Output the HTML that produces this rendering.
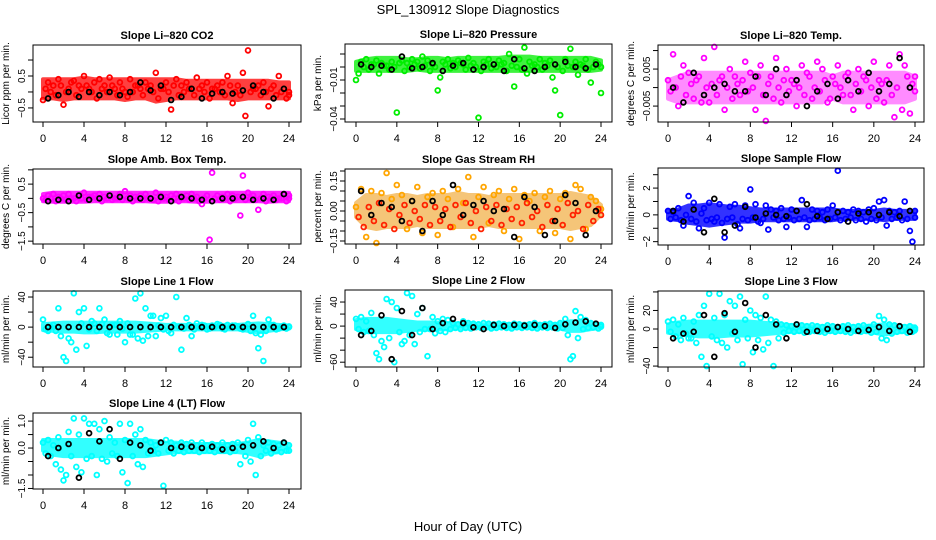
<!DOCTYPE html>
<html><head><meta charset="utf-8">
<style>
html,body{margin:0;padding:0;background:#fff;}
svg{display:block;font-family:"Liberation Sans",sans-serif;}
</style></head>
<body>
<svg id="chart" width="936" height="540" viewBox="0 0 936 540" xmlns="http://www.w3.org/2000/svg">
<rect width="936" height="540" fill="#fff"/>
<text x="468" y="14" text-anchor="middle" font-size="13">SPL_130912  Slope Diagnostics</text>
<text x="468" y="531" text-anchor="middle" font-size="13">Hour of Day (UTC)</text>
<g id="panels"></g>
</svg>
<script>
const colHours = [0,0.5,1,1.5,2,2.5,3,3.5,4,4.5,5,5.5,6,6.5,7,7.5,8,8.5,9,9.5,10,10.5,11,11.5,12,12.5,13,13.5,14,14.5,15,15.5,16,16.5,17,17.5,18,18.5,19,19.5,20,20.5,21,21.5,22,22.5,23,23.5,24];
const blackHours = [0.5,1.5,2.5,3.5,4.5,5.5,6.5,7.5,8.5,9.5,10.5,11.5,12.5,13.5,14.5,15.5,16.5,17.5,18.5,19.5,20.5,21.5,22.5,23.5];
const bandHours = [0,1,2,3,4,5,6,7,8,9,10,11,12,13,14,15,16,17,18,19,20,21,22,23,24];

const co2A = [-0.25,0.3,0.2,0.4,-0.4,0.1,0.35,0.2,0.5,0.1,0.3,0.4,0.2,0.45,0.1,0.3,0.0,0.4,0.2,0.1,0.3,0.2,0.6,0.1,0.3,-0.55,0.4,0.2,0.3,0.1,0.45,0.2,0.3,0.1,0.2,0.3,0.5,-0.35,0.2,0.6,1.3,0.1,0.2,0.3,-0.45,0.2,0.5,0.1,0.0];
const co2B = [0.1,0.0,-0.1,0.2,0.0,0.3,-0.1,0.1,0.2,0.0,-0.2,0.1,0.0,0.2,-0.1,0.1,-0.15,0.0,0.2,-0.1,0.1,0.0,-0.2,0.1,0.0,0.2,-0.1,0.0,0.1,-0.1,0.1,0.0,-0.2,0.1,0.0,-0.1,0.2,0.0,-0.1,-0.75,0.0,0.1,-0.1,0.0,0.1,-0.1,0.0,-0.2,-0.1];
const co2K = [-0.2,-0.1,0.0,-0.15,0.0,-0.1,0.0,-0.1,0.0,0.3,0.05,0.2,-0.25,-0.15,0.1,-0.2,-0.05,0.0,-0.05,0.05,0.2,0.0,-0.2,0.1];
const co2Hi = [0.4,0.4,0.4,0.4,0.45,0.4,0.4,0.4,0.4,0.4,0.4,0.4,0.4,0.4,0.35,0.35,0.35,0.35,0.35,0.35,0.35,0.35,0.35,0.3,0.3];
const co2Lo = [-0.2,-0.2,-0.25,-0.2,-0.2,-0.2,-0.2,-0.2,-0.25,-0.2,-0.2,-0.3,-0.25,-0.2,-0.2,-0.2,-0.2,-0.2,-0.2,-0.25,-0.2,-0.2,-0.2,-0.2,-0.2];

const presA = [-0.01,0.004,0.006,0.002,0.005,0.003,0.001,0.004,-0.035,0.005,0.003,0.006,0.004,0.008,0.005,0.002,-0.018,0.004,0.006,0.003,0.005,0.002,0.007,0.003,-0.039,0.004,0.006,0.002,0.005,0.003,0.01,-0.015,0.006,0.015,0.004,0.002,0.006,0.003,0.005,-0.018,-0.037,0.006,0.014,0.004,0.002,0.006,-0.012,0.004,-0.02];
const presB = [-0.005,0.0,-0.002,0.002,-0.005,0.001,-0.002,0.0,0.003,-0.003,0.0,0.002,-0.001,0.001,-0.003,0.0,-0.008,0.002,-0.001,0.0,0.003,-0.002,0.001,0.0,-0.003,0.002,-0.001,0.0,0.002,-0.003,0.001,0.0,-0.002,-0.005,0.001,0.0,-0.002,0.001,-0.008,0.0,-0.003,0.001,0.0,-0.006,0.001,-0.002,0.0,0.002,0.0];
const presK = [0.002,0.0,0.001,-0.002,0.008,-0.001,0.0,0.003,-0.003,0.001,0.003,-0.002,0.0,0.002,-0.003,0.006,-0.001,-0.003,0.0,0.002,0.004,0.0,-0.001,0.002];
const presHi = [0.004,0.006,0.007,0.007,0.007,0.006,0.006,0.007,0.007,0.006,0.007,0.007,0.007,0.007,0.007,0.008,0.008,0.008,0.007,0.007,0.007,0.007,0.007,0.007,0.005];
const presLo = [-0.003,-0.003,-0.003,-0.003,-0.003,-0.003,-0.002,-0.003,-0.003,-0.003,-0.003,-0.003,-0.003,-0.003,-0.003,-0.003,-0.003,-0.003,-0.003,-0.003,-0.003,-0.003,-0.003,-0.003,-0.002];

const tempA = [0.002,0.009,-0.005,0.006,0.004,-0.003,0.003,0.008,-0.004,0.011,0.002,-0.006,0.005,0.003,-0.002,0.007,0.004,-0.006,0.006,-0.009,0.003,0.008,-0.004,0.005,0.002,-0.005,0.006,0.004,-0.003,0.007,0.005,-0.004,0.003,0.006,-0.002,0.004,-0.006,0.005,0.003,-0.005,0.007,0.002,-0.004,0.006,-0.008,0.009,0.006,-0.007,0.003];
const tempB = [-0.001,0.0,0.003,-0.002,0.001,0.002,-0.004,0.0,0.001,-0.002,0.003,0.0,-0.003,0.001,0.002,-0.001,0.0,0.003,-0.002,0.001,-0.003,0.0,0.002,-0.001,0.001,0.0,-0.002,0.003,0.0,-0.001,0.002,-0.003,0.001,0.0,0.003,-0.002,0.001,-0.001,0.002,0.0,-0.003,0.001,0.002,-0.002,0.0,-0.006,0.003,0.001,-0.001];
const tempK = [0.0,-0.004,0.004,-0.002,0.0,0.001,-0.001,-0.001,0.003,-0.002,0.005,-0.002,0.002,-0.005,-0.001,0.001,-0.003,0.002,-0.001,0.004,-0.001,0.001,0.008,0.0];
const tempHi = [0.002,0.003,0.004,0.004,0.004,0.004,0.004,0.004,0.004,0.004,0.004,0.004,0.004,0.004,0.004,0.004,0.003,0.004,0.004,0.004,0.004,0.004,0.004,0.004,0.003];
const tempLo = [-0.003,-0.004,-0.004,-0.004,-0.004,-0.004,-0.004,-0.004,-0.004,-0.004,-0.004,-0.004,-0.004,-0.004,-0.004,-0.004,-0.003,-0.004,-0.004,-0.004,-0.004,-0.004,-0.004,-0.004,-0.003];

const ambA = [0.0,0.1,0.15,0.05,0.1,0.15,0.0,0.1,0.2,0.05,0.1,0.15,0.05,0.1,0.0,0.15,0.25,0.1,0.05,0.1,0.15,0.0,0.2,0.1,0.05,0.1,0.15,0.0,0.1,0.15,0.05,-0.2,0.1,0.9,0.1,0.05,0.15,0.1,0.05,0.8,0.2,0.1,-0.4,0.15,0.05,0.1,0.0,0.15,0.1];
const ambB = [-0.05,0.0,-0.1,0.0,-0.05,0.0,-0.1,0.0,-0.05,0.05,0.0,-0.1,0.0,-0.05,0.0,-0.05,0.0,-0.1,0.0,-0.05,0.0,-0.05,-0.1,0.0,-0.05,0.0,-0.1,0.0,-0.05,0.0,-0.1,0.0,-1.45,0.0,-0.05,0.0,-0.1,0.0,-0.6,-0.05,0.0,-0.05,0.0,-0.1,0.0,-0.05,0.0,-0.1,0.0];
const ambK = [-0.1,-0.05,-0.1,0.1,-0.05,0.0,0.1,0.05,0.0,0.0,0.0,0.05,-0.1,0.05,0.0,-0.05,-0.1,0.0,0.0,0.05,-0.05,0.0,-0.05,0.15];
const ambHi = [0.15,0.2,0.2,0.2,0.2,0.2,0.2,0.2,0.2,0.2,0.2,0.2,0.2,0.2,0.2,0.2,0.2,0.2,0.2,0.2,0.2,0.2,0.2,0.2,0.2];
const ambLo = [-0.1,-0.12,-0.12,-0.12,-0.12,-0.1,-0.1,-0.1,-0.1,-0.1,-0.1,-0.12,-0.12,-0.1,-0.1,-0.12,-0.12,-0.1,-0.1,-0.1,-0.1,-0.1,-0.12,-0.1,-0.1];

const rhA = [0.02,0.11,-0.13,0.10,-0.16,0.09,0.19,0.06,0.13,0.08,-0.09,0.05,0.12,-0.11,0.07,0.09,-0.12,0.10,0.06,-0.08,0.11,0.04,0.17,-0.13,0.07,0.12,-0.06,0.08,0.10,-0.10,0.06,0.11,-0.14,0.08,0.05,0.09,-0.10,0.07,0.10,-0.11,0.06,0.09,-0.14,0.13,0.11,-0.09,0.07,0.05,0.01];
const rhB = [-0.03,-0.08,0.02,-0.05,0.04,-0.07,0.01,-0.09,-0.02,0.03,-0.06,0.00,-0.04,0.03,-0.07,0.02,-0.05,0.01,-0.08,0.03,-0.03,0.04,-0.06,0.00,-0.09,0.02,-0.05,0.03,-0.07,0.01,-0.04,0.02,-0.06,0.04,-0.03,0.00,-0.08,0.03,-0.05,0.01,-0.07,0.04,-0.02,0.00,-0.09,0.03,-0.05,0.01,-0.02];
const rhK = [0.10,-0.02,0.04,0.02,-0.05,0.05,-0.10,0.05,-0.02,0.13,-0.02,0.03,0.05,0.0,0.01,-0.13,0.07,0.02,-0.12,-0.05,0.08,0.04,-0.12,0.0];
const rhHi = [0.04,0.08,0.08,0.07,0.08,0.08,0.07,0.08,0.08,0.08,0.09,0.08,0.08,0.07,0.08,0.08,0.08,0.08,0.08,0.08,0.08,0.09,0.08,0.07,0.03];
const rhLo = [-0.03,-0.08,-0.09,-0.08,-0.08,-0.08,-0.07,-0.08,-0.08,-0.08,-0.08,-0.08,-0.08,-0.07,-0.08,-0.08,-0.08,-0.08,-0.08,-0.08,-0.08,-0.09,-0.08,-0.07,-0.02];

const sfA = [0.3,0.2,0.5,-0.8,1.4,0.9,-1.0,0.5,0.9,-0.5,0.8,-1.7,0.6,0.8,-1.0,0.7,1.9,0.8,-0.6,0.7,0.4,0.3,0.5,-0.9,0.4,0.3,1.1,-0.9,0.4,0.3,0.2,0.4,0.7,3.3,0.3,0.2,0.4,0.3,0.2,0.4,0.5,1.0,1.1,0.3,0.2,0.3,1.0,-1.2,0.3];
const sfB = [-0.3,-0.2,-0.4,0.0,-0.3,-0.5,0.1,-0.4,-0.3,-0.2,-0.6,-0.3,-0.2,-0.7,-0.3,-0.4,-0.2,-0.5,-0.3,-1.1,-0.2,-0.4,-0.3,-0.2,-0.4,-0.3,-0.2,-0.4,-0.3,-0.2,-0.4,-0.3,-0.2,-0.4,-0.3,-0.2,-0.4,-0.3,-0.5,-0.3,-0.4,-0.2,-0.8,-0.3,-0.2,-0.4,-0.3,-2.0,-0.2];
const sfK = [0.3,-0.5,0.4,-1.3,1.2,-1.3,-0.8,0.6,-0.2,0.1,0.0,-0.1,0.3,0.8,-0.1,-0.3,0.2,-0.5,0.1,0.2,0.0,0.2,-0.1,0.3];
const sfHi = [0.3,0.4,0.7,0.7,0.8,0.7,0.6,0.6,0.5,0.4,0.4,0.4,0.4,0.4,0.4,0.4,0.4,0.3,0.3,0.3,0.3,0.4,0.3,0.3,0.3];
const sfLo = [-0.3,-0.4,-0.6,-0.7,-0.8,-0.7,-0.6,-0.5,-0.5,-0.4,-0.4,-0.4,-0.4,-0.4,-0.4,-0.4,-0.4,-0.3,-0.3,-0.3,-0.3,-0.4,-0.3,-0.3,-0.3];

const l1A = [10,-5,3,25,-40,-15,45,20,25,-3,5,25,10,-10,3,8,-20,-10,38,45,25,15,-12,12,15,-8,40,-30,12,-12,5,3,-3,2,4,-2,3,2,1,-3,4,15,-28,-45,10,3,-2,2,1];
const l1B = [-3,0,-5,-12,-45,-20,-30,5,-25,8,-5,4,-8,3,-10,-2,5,-10,-15,-18,-12,15,2,-3,-5,3,0,-2,3,-3,0,2,-2,0,3,-3,0,2,-2,0,-5,-8,-10,-5,3,-3,0,-2,0];
const l1K = [0,0,0,0,0,0,0,0,0,0,0,0,0,0,0,0,0,0,0,0,0,0,0,0];
const l1Hi = [4,5,6,6,6,6,6,6,6,6,5,4,3,3,3,3,3,3,3,3,4,5,4,3,2];
const l1Lo = [-4,-5,-6,-6,-7,-7,-6,-6,-6,-6,-5,-4,-3,-3,-3,-3,-3,-3,-3,-3,-5,-7,-5,-3,-2];

const l2A = [12,15,8,22,-45,-25,45,40,30,-30,55,50,20,30,-50,15,8,12,10,5,3,8,5,4,3,5,4,3,4,3,2,4,3,2,3,5,2,3,4,2,5,12,-55,25,15,10,5,3,2];
const l2B = [-5,-10,-8,-15,-55,-35,-20,-60,-10,-25,-15,-30,-10,-5,-5,-12,-8,-10,-5,-3,-5,-3,-4,-2,-3,-2,-4,-3,-2,-3,-4,-2,-3,-2,-3,-4,-2,-3,-2,-4,-3,-15,-50,-20,-5,-3,-2,-4,-1];
const l2K = [-15,-8,18,-55,25,-15,30,-5,5,12,5,-2,-5,2,0,2,1,2,0,-3,3,6,8,4];
const l2Hi = [10,12,12,12,10,8,6,6,6,5,4,4,3,3,3,3,3,3,3,3,4,8,8,5,3];
const l2Lo = [-5,-10,-10,-10,-10,-8,-6,-6,-6,-5,-4,-4,-3,-3,-3,-3,-3,-3,-3,-3,-4,-8,-8,-5,-3];

const l3A = [8,10,5,12,-10,8,15,25,38,12,38,15,30,25,35,10,20,15,12,35,10,8,5,4,3,5,4,3,4,3,2,4,3,2,3,4,2,3,4,2,5,14,10,5,4,3,2,3,1];
const l3B = [-3,-8,-12,-5,-10,-15,-30,-40,-8,-12,-15,-20,-5,-12,-38,-10,-25,-12,-22,-15,-40,-10,-4,-2,-3,-2,-4,-3,-2,-3,-4,-2,-3,-2,-3,-4,-2,-3,-2,-4,-3,-10,-12,-5,-3,-2,-4,-3,-1];
const l3K = [-10,-5,-3,15,-30,17,-3,28,-20,15,5,-10,5,-3,-2,0,2,0,-2,-1,2,-2,3,-3];
const l3Hi = [5,7,8,8,8,8,8,8,8,7,6,5,4,4,3,3,3,3,3,3,4,5,4,3,3];
const l3Lo = [-4,-6,-7,-8,-8,-8,-7,-7,-7,-6,-5,-4,-3,-3,-3,-3,-3,-3,-3,-3,-4,-6,-4,-3,-3];

const l4A = [0.2,0.3,0.1,0.4,-1.2,0.6,1.1,0.5,1.1,0.9,0.9,0.7,1.0,0.4,0.2,0.9,0.3,0.9,0.5,0.7,0.3,0.2,0.1,0.2,0.3,0.2,0.1,0.2,0.15,0.2,0.1,0.2,0.1,0.15,0.1,0.2,0.1,0.15,0.2,0.1,0.3,0.9,0.4,0.1,0.2,0.15,0.1,0.2,0.1];
const l4B = [-0.2,-0.3,-0.6,-0.8,-1.0,-0.3,-0.7,-0.9,-0.4,-0.3,-1.0,-0.4,-0.5,-0.2,-0.3,-0.9,-1.3,-0.3,-0.6,-0.7,-0.2,-0.1,-0.2,-1.4,-0.1,-0.2,-0.1,-0.15,-0.1,-0.1,-0.15,-0.1,-0.1,-0.15,-0.1,-0.1,-0.15,-0.1,-0.6,-0.3,-0.5,-1.0,-0.3,-0.1,-0.2,-0.1,-0.15,-0.1,-0.1];
const l4K = [-0.3,0.0,0.15,-1.1,0.55,0.25,0.7,-0.4,0.2,0.1,-0.1,0.2,0.0,0.05,0.05,0.0,0.05,-0.05,0.0,0.05,0.1,0.25,0.0,0.2];
const l4Hi = [0.3,0.3,0.3,0.3,0.3,0.3,0.3,0.3,0.3,0.3,0.3,0.25,0.2,0.2,0.15,0.15,0.15,0.15,0.15,0.15,0.2,0.3,0.25,0.2,0.15];
const l4Lo = [-0.1,-0.25,-0.3,-0.3,-0.3,-0.3,-0.3,-0.3,-0.3,-0.3,-0.3,-0.25,-0.2,-0.15,-0.15,-0.15,-0.15,-0.15,-0.15,-0.15,-0.2,-0.3,-0.2,-0.15,-0.1];

const xTicks = [0,4,8,12,16,20,24];

const panels = [
 {name:'co2',title:'Slope Li\u2013820 CO2',ylab:'Licor ppm per min.',col:'#ff0000',op:0.75,a:co2A,b:co2B,k:co2K,hi:co2Hi,lo:co2Lo,box:[33,45,301,122],xr:[43,289],dom:[-0.94,1.47],ticks:[-0.5,0,0.5,1],labs:[[-0.5,'\u22120.5'],[0.5,'0.5']]},
 {name:'pressure',title:'Slope Li\u2013820 Pressure',ylab:'kPa per min.',col:'#00ee00',op:0.75,a:presA,b:presB,k:presK,hi:presHi,lo:presLo,box:[345,44,612,122],xr:[356,601],dom:[-0.0423,0.0177],ticks:[-0.04,-0.03,-0.02,-0.01,0,0.01],labs:[[-0.04,'\u22120.04'],[-0.01,'\u22120.01']]},
 {name:'temp',title:'Slope Li\u2013820 Temp.',ylab:'degrees C per min.',col:'#ff00ff',op:0.45,a:tempA,b:tempB,k:tempK,hi:tempHi,lo:tempLo,box:[658,45,924,122],xr:[668,915],dom:[-0.0093,0.0115],ticks:[-0.005,0,0.005,0.01],labs:[[-0.005,'\u22120.005'],[0.005,'0.005']]},
 {name:'amb-box-temp',title:'Slope Amb. Box Temp.',ylab:'degrees C per min.',col:'#ff00ff',op:0.85,a:ambA,b:ambB,k:ambK,hi:ambHi,lo:ambLo,box:[33,169,301,244],xr:[43,289],dom:[-1.6,1.03],ticks:[-1.5,-1,-0.5,0,0.5,1],labs:[[-1.5,'\u22121.5'],[-0.5,'\u22120.5'],[0.5,'0.5']]},
 {name:'gas-rh',title:'Slope Gas Stream RH',ylab:'percent per min.',col:'#ffa500',col2:'#ff2200',bandCol:'#f0a020',op:0.6,a:rhA,b:rhB,k:rhK,hi:rhHi,lo:rhLo,box:[345,169,612,244],xr:[356,601],dom:[-0.165,0.21],ticks:[-0.15,-0.1,-0.05,0,0.05,0.1,0.15,0.2],labs:[[-0.15,'\u22120.15'],[0,'0.00'],[0.15,'0.15']]},
 {name:'sample-flow',title:'Slope Sample Flow',ylab:'ml/min per min.',col:'#0000ff',op:0.8,a:sfA,b:sfB,k:sfK,hi:sfHi,lo:sfLo,box:[658,168,924,245],xr:[668,915],dom:[-2.25,3.5],ticks:[-2,-1,0,1,2,3],labs:[[-2,'\u22122'],[0,'0'],[2,'2']]},
 {name:'line1-flow',title:'Slope Line 1 Flow',ylab:'ml/min per min.',col:'#00ffff',op:0.8,a:l1A,b:l1B,k:l1K,hi:l1Hi,lo:l1Lo,box:[33,291,301,367],xr:[43,289],dom:[-53,48],ticks:[-40,-20,0,20,40],labs:[[-40,'\u221240'],[0,'0'],[40,'40']]},
 {name:'line2-flow',title:'Slope Line 2 Flow',ylab:'ml/min per min.',col:'#00ffff',op:0.8,a:l2A,b:l2B,k:l2K,hi:l2Hi,lo:l2Lo,box:[345,290,612,367],xr:[356,601],dom:[-68,60],ticks:[-60,-40,-20,0,20,40],labs:[[-60,'\u221260'],[0,'0'],[40,'40']]},
 {name:'line3-flow',title:'Slope Line 3 Flow',ylab:'ml/min per min.',col:'#00ffff',op:0.8,a:l3A,b:l3B,k:l3K,hi:l3Hi,lo:l3Lo,box:[658,291,924,367],xr:[668,915],dom:[-41,41],ticks:[-40,-20,0,20,40],labs:[[-40,'\u221240'],[0,'0'],[20,'20']]},
 {name:'line4-flow',title:'Slope Line 4 (LT) Flow',ylab:'ml/min per min.',col:'#00ffff',op:0.8,a:l4A,b:l4B,k:l4K,hi:l4Hi,lo:l4Lo,box:[33,413,301,489],xr:[43,289],dom:[-1.52,1.3],ticks:[-1.5,-1,-0.5,0,0.5,1],labs:[[-1.5,'\u22121.5'],[0,'0.0'],[1,'1.0']]}
];

const NS='http://www.w3.org/2000/svg';
const root=document.getElementById('panels');
function mk(tag,attrs,parent){const e=document.createElementNS(NS,tag);for(const k in attrs)e.setAttribute(k,attrs[k]);parent.appendChild(e);return e;}

panels.forEach(p=>{
  const [x0,y0,x1,y1]=p.box;
  const xs=h=>p.xr[0]+(h/24)*(p.xr[1]-p.xr[0]);
  const ys=v=>y1-(v-p.dom[0])/(p.dom[1]-p.dom[0])*(y1-y0);
  const g=mk('g',{},root);
  
  
  const t=mk('text',{x:(x0+x1)/2,y:y0-6,'text-anchor':'middle','font-size':'11','font-weight':'bold'},g);
  t.textContent=p.title;
  
  
  const yl=mk('text',{transform:`translate(${x0-24},${(y0+y1)/2}) rotate(-90)`,'text-anchor':'middle','font-size':'10'},g);
  yl.textContent=p.ylab;
  
  
  let d='';
  bandHours.forEach((h,i)=>{d+=(i?'L':'M')+xs(h).toFixed(1)+','+ys(p.hi[i]).toFixed(1);});
  for(let i=bandHours.length-1;i>=0;i--){d+='L'+xs(bandHours[i]).toFixed(1)+','+ys(p.lo[i]).toFixed(1);}
  d+='Z';
  const band=mk('path',{d:d,fill:p.bandCol||p.col,stroke:p.bandCol||p.col,'stroke-width':'4','stroke-linejoin':'round',opacity:p.op},g);
  
  
  const pts=mk('g',{fill:'none','stroke-width':'1.8'},g);
  
  
  const drawSet=(hours,vals,col)=>{vals.forEach((v,i)=>{
    const c=mk('circle',{cx:xs(hours[i]).toFixed(1),cy:ys(v).toFixed(1),r:'2.4',stroke:col},pts);
    
    
  });};
  drawSet(colHours,p.a,p.col);
  drawSet(colHours.map(h=>h+0.25>24?24:h+0.25),p.b,p.col2||p.col);
  drawSet(blackHours,p.k,'#000');
  const b=mk('rect',{x:x0,y:y0,width:x1-x0,height:y1-y0,fill:'none',stroke:'#000','stroke-width':'1'},g);
  
  
  const xa=mk('g',{stroke:'#000','stroke-width':'1'},g);
  
  
  mk('line',{x1:xs(0),x2:xs(24),y1:y1,y2:y1},xa);
  xTicks.forEach(h=>{
    mk('line',{x1:xs(h),x2:xs(h),y1:y1,y2:y1+5},xa);
    const tl=mk('text',{x:xs(h),y:y1+20,'text-anchor':'middle','font-size':'11',stroke:'none',fill:'#000'},g);
    tl.textContent=String(h);
    
    
  });
  const ya=mk('g',{stroke:'#000','stroke-width':'1'},g);
  
  
  p.ticks.forEach(v=>{mk('line',{x1:x0-5,x2:x0,y1:ys(v),y2:ys(v)},ya);});
  p.labs.forEach(([v,s])=>{
    const tl=mk('text',{transform:`translate(${x0-8},${ys(v)}) rotate(-90)`,'text-anchor':'middle','font-size':'10',fill:'#000'},g);
    tl.textContent=s;
    
    
  });
});
</script>
</body></html>
